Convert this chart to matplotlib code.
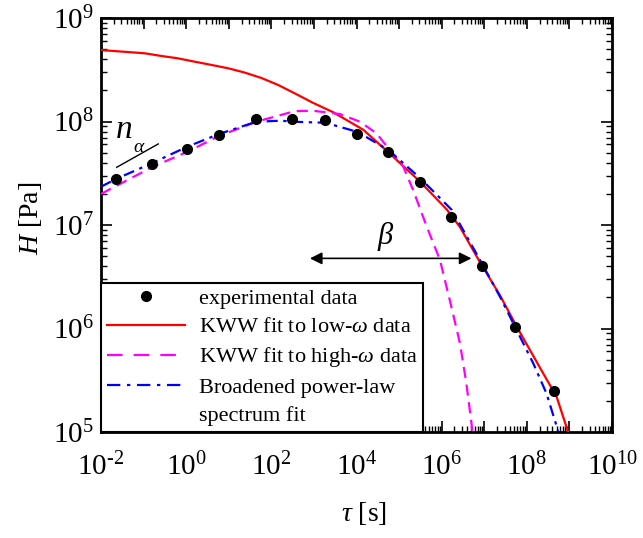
import numpy as np
import matplotlib
matplotlib.use("Agg")
import matplotlib.pyplot as plt
from matplotlib.ticker import FixedLocator, LogLocator, FuncFormatter, NullFormatter
from matplotlib.lines import Line2D

plt.rcParams['font.family'] = ['Liberation Serif', 'DejaVu Serif']
plt.rcParams['mathtext.fontset'] = 'custom'
plt.rcParams['mathtext.rm'] = 'Liberation Serif'
plt.rcParams['mathtext.it'] = 'Liberation Serif:italic'
plt.rcParams['mathtext.bf'] = 'Liberation Serif:bold'

# ---- data ----
exp_tau = [0.0224, 0.155, 1.06, 5.9, 44.2, 302, 1862, 1.05e4, 5.6e4, 3.16e5,
           1.7e6, 8.7e6, 5.2e7, 4.3e8]
exp_H = [2.78e7, 3.88e7, 5.42e7, 7.41e7, 1.05e8, 1.05e8, 1.03e8, 7.5e7, 5.1e7,
         2.62e7, 1.19e7, 4.05e6, 1.04e6, 2.5e5]

# KWW fit to low-omega data (log10 tau, log10 H)
low_log_tau = [-2.0, -1.36, -0.97, -0.58, -0.19, 0.2, 0.6, 0.99, 1.38, 1.77,
               2.16, 2.55, 2.98, 3.45, 4.16, 4.78, 5.49, 6.12, 6.43, 6.9,
               7.37, 7.76, 8.31, 8.7, 8.97]
low_log_H = [8.69, 8.671, 8.659, 8.633, 8.61, 8.578, 8.546, 8.514, 8.472, 8.42,
             8.353, 8.272, 8.18, 8.09, 7.92, 7.69, 7.42, 7.15, 6.98, 6.64,
             6.32, 6.02, 5.62, 5.34, 5.0]

# KWW fit to high-omega data
high_log_tau = [-2.0, -0.81, 0.03, 0.77, 1.65, 2.55, 2.98, 3.61, 4.08, 4.47,
                4.78, 5.10, 5.33, 5.65, 5.96, 6.19, 6.43, 6.58, 6.70, 6.72]
high_log_H = [7.30, 7.557, 7.708, 7.86, 7.998, 8.10, 8.104, 8.072, 7.998, 7.886,
              7.725, 7.563, 7.338, 6.984, 6.662, 6.275, 5.857, 5.47, 5.084, 5.0]

# Broadened power-law spectrum fit
bpl_log_tau = [-2.0, -1.65, -0.81, 0.03, 0.77, 1.65, 2.24, 2.48, 3.27, 4.02,
               4.75, 5.50, 6.24, 6.9, 7.37, 7.76, 8.15, 8.46, 8.735]
bpl_log_H = [7.37, 7.444, 7.596, 7.757, 7.879, 7.998, 8.008, 7.998, 7.988, 7.90,
             7.725, 7.451, 7.145, 6.662, 6.307, 5.986, 5.664, 5.374, 5.01]

x_tick_exps = list(range(-2, 11))
y_tick_exps = list(range(5, 10))

legend_labels = ['experimental data', r'KWW fit to low-$\omega$ data',
                 r'KWW fit to high-$\omega$ data', 'Broadened power-law',
                 'spectrum fit']


def pow_label(v):
    e = int(round(np.log10(v)))
    s = str(e).replace('-', '\u2010')
    return r'$\mathregular{10^{%s}}$' % s


# ---- figure ----
fig = plt.figure(figsize=(6.43, 5.38), dpi=100)
ax = fig.add_axes([101/643, 1-432/538, 511/643, 414/538])

red = '#ff0000'
mag = '#ff00ff'
blue = '#0000ff'

ax.plot(10**np.array(low_log_tau), 10**np.array(low_log_H), color=red, lw=1.6,
        solid_joinstyle='round', zorder=3)
ax.plot(10**np.array(high_log_tau), 10**np.array(high_log_H), color=mag, lw=1.6,
        dashes=(5, 3), zorder=3)
ax.plot(10**np.array(bpl_log_tau), 10**np.array(bpl_log_H), color=blue, lw=1.6,
        dashes=(5, 2.5, 1.5, 2.5), zorder=3)
ax.plot(exp_tau, exp_H, 'o', color='black', ms=7, zorder=4)

ax.set_xscale('log')
ax.set_yscale('log')
ax.set_xlim(1e-2, 1e10)
ax.set_ylim(1e5, 1e9)

ax.xaxis.set_major_locator(FixedLocator([10.0**k for k in x_tick_exps]))
ax.xaxis.set_major_formatter(FuncFormatter(
    lambda v, p: pow_label(v) if round(np.log10(v)) % 2 == 0 else ''))
ax.yaxis.set_major_locator(FixedLocator([10.0**k for k in y_tick_exps]))
ax.yaxis.set_major_formatter(FuncFormatter(lambda v, p: pow_label(v)))
for a in (ax.xaxis, ax.yaxis):
    a.set_minor_locator(LogLocator(base=10, subs=np.arange(2, 10), numticks=100))
    a.set_minor_formatter(NullFormatter())

ax.tick_params(which='both', direction='in', top=True, right=True)
ax.tick_params(which='major', length=8, width=1.2, labelsize=21)
ax.tick_params(which='minor', length=4.5, width=1.0)
ax.tick_params(axis='x', which='major', pad=15)
ax.tick_params(axis='y', which='major', pad=5)
for s in ax.spines.values():
    s.set_linewidth(2.0)

ax.set_xlabel(r'$\tau$ [s]', fontsize=20)
ax.set_ylabel(r'$H$ [Pa]', fontsize=20)
ax.xaxis.set_label_coords((364-101)/511, -(500-432)/414)
ax.yaxis.set_label_coords((44-101)/511, (432-218)/414)

# n_alpha annotation
ax.plot([0.0234, 0.221], [3.61e7, 6.07e7], color='black', lw=1.0, zorder=5)
ax.text(0.0347, 8.3e7, r'$n$', fontsize=24, ha='center', va='center')
ax.text(0.078, 5.6e7, r'$\alpha$', fontsize=14, ha='center', va='center')

# beta arrow
ax.annotate('', xy=(5.0e6, 4.76e6), xytext=(805, 4.76e6),
            arrowprops=dict(arrowstyle='<|-|>', color='black', lw=1.2,
                            mutation_scale=18, shrinkA=0, shrinkB=0))
ax.text(4.9e4, 7.7e6, r'$\beta$', fontsize=22, ha='center', va='center')

# legend
handles = [
    Line2D([], [], marker='o', color='black', ls='none', ms=7),
    Line2D([], [], color=red, lw=1.6),
    Line2D([], [], color=mag, lw=1.6, dashes=(7, 5)),
    Line2D([], [], color=blue, lw=1.6, dashes=(6, 3, 1.5, 3)),
    Line2D([], [], ls='none'),
]
leg = ax.legend(handles, legend_labels, loc='lower left', bbox_to_anchor=(0, 0),
                borderaxespad=0, fontsize=16, handlelength=3.55,
                handletextpad=0.6, borderpad=0.25, labelspacing=0.36,
                fancybox=False, framealpha=1, edgecolor='black')
leg.get_frame().set_linewidth(1.5)
leg.set_zorder(6)

fig.savefig('out.png', dpi=100)
